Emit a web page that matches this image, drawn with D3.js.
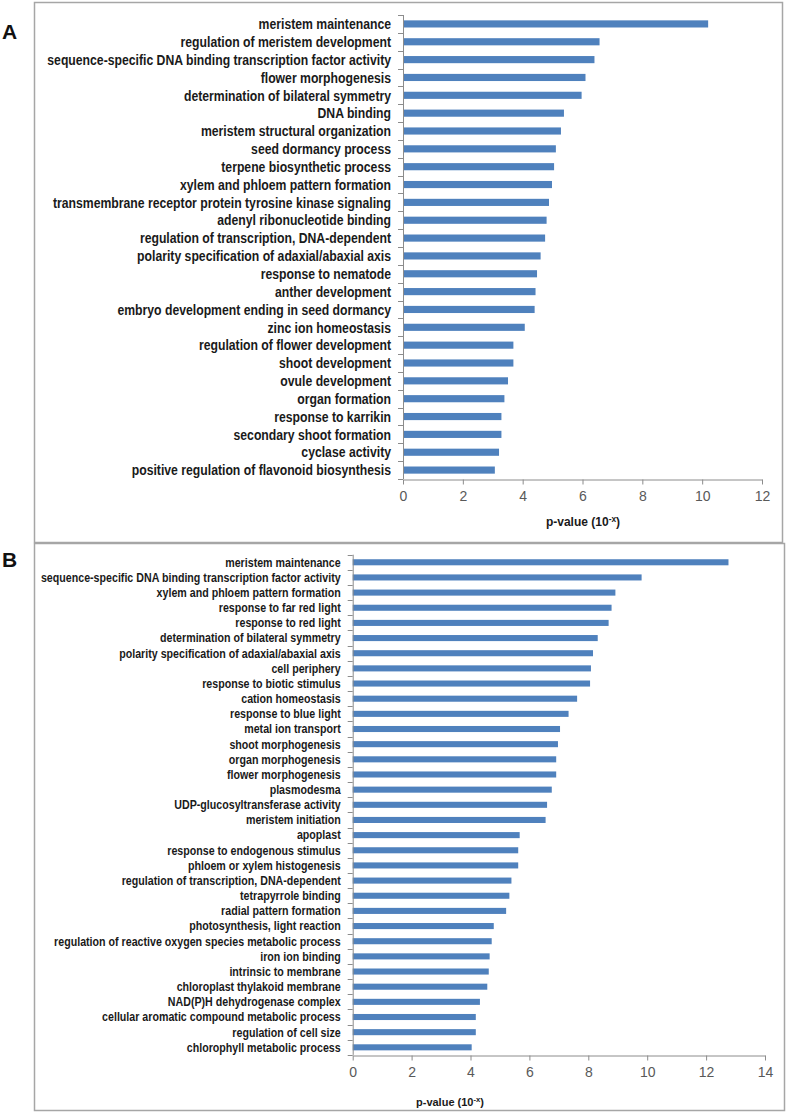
<!DOCTYPE html>
<html>
<head>
<meta charset="utf-8">
<script src="https://cdn.jsdelivr.net/npm/d3@7"></script>
<style>
  html, body { margin: 0; padding: 0; background: #fff; }
  svg { display: block; }
</style>
</head>
<body>
<svg id="chart" width="786" height="1112"></svg>
<script>
const categoriesA = [
  "meristem maintenance",
  "regulation of meristem development",
  "sequence-specific DNA binding transcription factor activity",
  "flower morphogenesis",
  "determination of bilateral symmetry",
  "DNA binding",
  "meristem structural  organization",
  "seed dormancy process",
  "terpene biosynthetic process",
  "xylem and phloem pattern formation",
  "transmembrane receptor protein tyrosine kinase signaling",
  "adenyl ribonucleotide binding",
  "regulation of transcription, DNA-dependent",
  "polarity specification of adaxial/abaxial axis",
  "response to nematode",
  "anther development",
  "embryo development ending in seed dormancy",
  "zinc ion homeostasis",
  "regulation of flower development",
  "shoot development",
  "ovule development",
  "organ formation",
  "response to karrikin",
  "secondary shoot formation",
  "cyclase activity",
  "positive regulation of flavonoid biosynthesis"
];
const valuesA = [10.2, 6.57, 6.4, 6.1, 5.97, 5.38, 5.28, 5.11, 5.05, 4.98, 4.88, 4.8, 4.75, 4.6, 4.48, 4.43, 4.4, 4.07, 3.69, 3.69, 3.51, 3.39, 3.29, 3.29, 3.21, 3.07];
const ticksA = [0, 2, 4, 6, 8, 10, 12];

const categoriesB = [
  "meristem maintenance",
  "sequence-specific DNA binding transcription factor activity",
  "xylem and phloem pattern formation",
  "response to far red light",
  "response to red light",
  "determination of bilateral symmetry",
  "polarity specification of adaxial/abaxial axis",
  "cell periphery",
  "response to biotic stimulus",
  "cation homeostasis",
  "response to blue light",
  "metal ion transport",
  "shoot morphogenesis",
  "organ morphogenesis",
  "flower morphogenesis",
  "plasmodesma",
  "UDP-glucosyltransferase activity",
  "meristem initiation",
  "apoplast",
  "response to endogenous stimulus",
  "phloem or xylem histogenesis",
  "regulation of transcription, DNA-dependent",
  "tetrapyrrole binding",
  "radial pattern formation",
  "photosynthesis, light reaction",
  "regulation of reactive oxygen species metabolic process",
  "iron ion binding",
  "intrinsic to membrane",
  "chloroplast thylakoid membrane",
  "NAD(P)H dehydrogenase complex",
  "cellular aromatic compound metabolic process",
  "regulation of cell size",
  "chlorophyll metabolic process"
];
const valuesB = [12.76, 9.81, 8.92, 8.79, 8.69, 8.32, 8.16, 8.09, 8.06, 7.62, 7.33, 7.04, 6.97, 6.91, 6.91, 6.76, 6.6, 6.55, 5.67, 5.62, 5.62, 5.39, 5.32, 5.21, 4.79, 4.72, 4.65, 4.62, 4.57, 4.32, 4.18, 4.18, 4.04];
const ticksB = [0, 2, 4, 6, 8, 10, 12, 14];

const svg = d3.select("#chart");
const BAR = "#4f81bd";
const AXIS = "#8c8c8c";
const LABEL_FONT = "'Liberation Sans Narrow', 'Arial Narrow', 'Liberation Sans', Arial, sans-serif";
const TICK_FONT = "'Liberation Sans', Arial, sans-serif";

function panel(cfg) {
  const g = svg.append("g");
  // frame
  g.append("rect")
    .attr("x", cfg.box[0] + 0.5).attr("y", cfg.box[1] + 0.5)
    .attr("width", cfg.box[2]).attr("height", cfg.box[3])
    .attr("fill", "none").attr("stroke", "#a6a6a6").attr("stroke-width", 1.5);
  // panel letter
  g.append("text")
    .attr("x", cfg.letterPos[0]).attr("y", cfg.letterPos[1])
    .attr("font-family", TICK_FONT).attr("font-weight", "bold")
    .attr("font-size", 21).attr("fill", "#111")
    .text(cfg.letter);

  const x = d3.scaleLinear().domain([0, cfg.max]).range(cfg.xRange);
  const y = d3.scaleBand().domain(cfg.cats).range(cfg.yRange)
    .paddingInner(0.6).paddingOuter(0.3);

  // bars
  g.selectAll("rect.bar").data(cfg.cats.map((c, i) => ({ c, v: cfg.vals[i] })))
    .join("rect").attr("class", "bar")
    .attr("x", x(0)).attr("y", d => y(d.c))
    .attr("width", d => x(d.v) - x(0)).attr("height", y.bandwidth())
    .attr("fill", BAR);

  // category labels (horizontally condensed to mimic a narrow font)
  const lg = g.append("g");
  const labels = lg.selectAll("text.cat").data(cfg.cats)
    .join("text").attr("class", "cat")
    .attr("x", 0)
    .attr("y", d => y(d) + y.bandwidth() / 2)
    .attr("dy", "0.35em")
    .attr("text-anchor", "end")
    .attr("font-family", LABEL_FONT).attr("font-weight", "bold")
    .attr("font-size", cfg.labelSize).attr("fill", "#1a1a1a")
    .text(d => d);
  let maxW = 0;
  labels.each(function () { maxW = Math.max(maxW, this.getComputedTextLength()); });
  const sx = Math.min(1, cfg.labelMaxWidth / maxW);
  lg.attr("transform", `translate(${x(0) - cfg.labelGap},0) scale(${sx},1)`);

  // vertical axis with ticks between categories
  const y0 = cfg.yRange[0], y1 = cfg.yRange[1];
  g.append("line").attr("x1", x(0) + 0.5).attr("x2", x(0) + 0.5)
    .attr("y1", y0).attr("y2", y1).attr("stroke", AXIS);
  const bounds = d3.range(cfg.cats.length + 1).map(i => y0 + i * (y1 - y0) / cfg.cats.length);
  g.selectAll("line.ytick").data(bounds).join("line").attr("class", "ytick")
    .attr("x1", x(0) - 5).attr("x2", x(0))
    .attr("y1", d => Math.round(d) + 0.5).attr("y2", d => Math.round(d) + 0.5)
    .attr("stroke", AXIS);

  // horizontal axis
  const ax = g.append("g").attr("transform", `translate(0,${Math.round(y1) + 0.5})`)
    .call(d3.axisBottom(x).tickValues(cfg.ticks).tickSize(5).tickSizeOuter(0).tickPadding(7));
  ax.select(".domain").attr("stroke", AXIS);
  ax.selectAll(".tick line").attr("stroke", AXIS);
  ax.selectAll(".tick text")
    .attr("font-family", TICK_FONT).attr("font-size", cfg.tickSize)
    .attr("fill", "#595959");

  // axis title
  const t = g.append("text")
    .attr("x", cfg.titlePos[0]).attr("y", cfg.titlePos[1])
    .attr("text-anchor", "middle")
    .attr("font-family", TICK_FONT).attr("font-weight", "bold")
    .attr("font-size", cfg.titleSize).attr("fill", "#1a1a1a");
  t.append("tspan").text("p-value (10");
  t.append("tspan").attr("dy", -4).attr("font-size", cfg.titleSize * 0.7).text("-x");
  t.append("tspan").attr("dy", 4).text(")");
}

panel({
  letter: "A", letterPos: [2, 39],
  box: [34, 2, 748, 540],
  cats: categoriesA, vals: valuesA, ticks: ticksA, max: 12,
  xRange: [403, 762], yRange: [15, 479],
  labelGap: 12, labelSize: 15, labelMaxWidth: 344, tickSize: 14,
  titlePos: [583, 526], titleSize: 12
});

panel({
  letter: "B", letterPos: [2, 567],
  box: [34, 543, 750, 567],
  cats: categoriesB, vals: valuesB, ticks: ticksB, max: 14,
  xRange: [352.7, 765], yRange: [554.7, 1054.9],
  labelGap: 12, labelSize: 12.5, labelMaxWidth: 300, tickSize: 14,
  titlePos: [450, 1106], titleSize: 11
});
</script>
</body>
</html>
